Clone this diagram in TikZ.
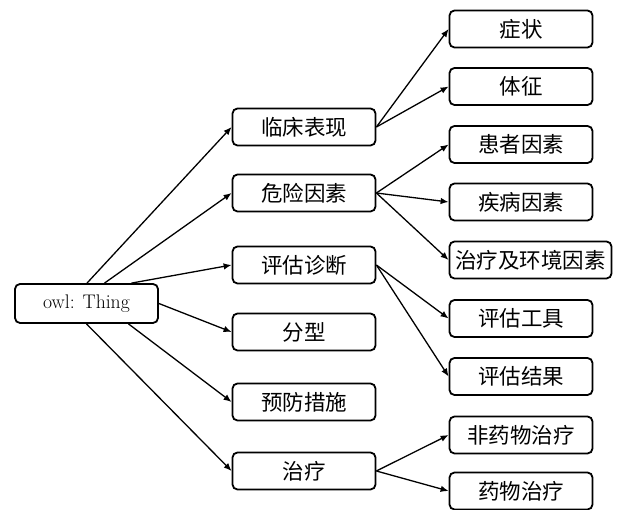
\documentclass[tikz,border=0pt]{standalone}
\usepackage{fontspec}
\newfontfamily\cjk{Noto Sans CJK SC}
\usetikzlibrary{arrows.meta}
\begin{document}
\begin{tikzpicture}[x=1pt,y=-1pt,
  box/.style={draw=black, line width=1.8pt, rounded corners=5pt, fill=white,
    minimum width=143pt, minimum height=37pt, inner sep=0pt, align=center,
    font=\cjk\fontsize{21.5pt}{23pt}\selectfont},
  rootbox/.style={box, minimum width=143pt, minimum height=39pt,
    font=\fontsize{19.7pt}{21pt}\selectfont},
  arr/.style={line width=1.3pt, -{Latex[length=8pt,width=6.5pt]}}]
\useasboundingbox (0,0) rectangle (622,510);
% root
\node[rootbox] (root) at (86.5,303.5) {owl: Thing};
% middle column
\node[box] (m1) at (304,127) {临床表现};
\node[box] (m2) at (304,193) {危险因素};
\node[box] (m3) at (304,265) {评估诊断};
\node[box] (m4) at (304,332) {分型};
\node[box] (m5) at (304,402) {预防措施};
\node[box] (m6) at (304,471) {治疗};
% right column
\node[box] (r1) at (521,29) {症状};
\node[box] (r2) at (521,86.5) {体征};
\node[box] (r3) at (521,144.5) {患者因素};
\node[box] (r4) at (521,202) {疾病因素};
\node[box, minimum width=162pt] (r5) at (530.5,260) {治疗及环境因素};
\node[box] (r6) at (521,318.5) {评估工具};
\node[box] (r7) at (521,376.5) {评估结果};
\node[box] (r8) at (521,435) {非药物治疗};
\node[box] (r9) at (521,491) {药物治疗};
% root connectors
\draw[arr] ([xshift=0.5pt]root.north) -- (m1.west);
\draw[arr] ([xshift=18pt]root.north) -- (m2.west);
\draw[arr] ([xshift=45pt]root.north) -- (m3.west);
\draw[arr] (root.east) -- (m4.west);
\draw[arr] ([xshift=42pt]root.south) -- (m5.west);
\draw[arr] (root.south) -- (m6.west);
% middle to right
\draw[arr] (m1.east) -- (r1.west);
\draw[arr] (m1.east) -- (r2.west);
\draw[arr] (m2.east) -- (r3.west);
\draw[arr] (m2.east) -- (r4.west);
\draw[arr] (m2.east) -- (r5.west);
\draw[arr] (m3.east) -- (r6.west);
\draw[arr] (m3.east) -- (r7.west);
\draw[arr] (m6.east) -- (r8.west);
\draw[arr] (m6.east) -- (r9.west);
\end{tikzpicture}
\end{document}
